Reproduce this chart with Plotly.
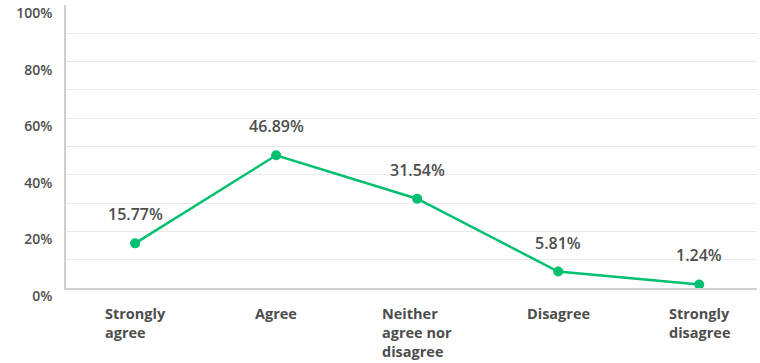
import plotly.graph_objects as go

categories = ["Strongly<br>agree", "Agree", "Neither<br>agree nor<br>disagree",
              "Disagree", "Strongly<br>disagree"]
values = [15.77, 46.89, 31.54, 5.81, 1.24]
y_ticks = [0, 20, 40, 60, 80, 100]
y_tick_labels = ["0%", "20%", "40%", "60%", "80%", "100%"]

GREEN = "#00BF6F"
TEXT = "#4d4d4d"
FONT = "Open Sans"

xs = list(range(len(categories)))

fig = go.Figure()
fig.add_trace(go.Scatter(
    x=xs, y=values, mode="lines+markers",
    line=dict(color=GREEN, width=2.5),
    marker=dict(color=GREEN, size=10),
    hoverinfo="skip", showlegend=False,
))

annotations = []
# value labels above each point
for x, v in zip(xs, values):
    annotations.append(dict(
        x=x, y=v, xref="x", yref="y", text=f"{v:.2f}%", showarrow=False,
        yshift=29, font=dict(family=FONT, size=16, color=TEXT, weight=600),
    ))
# category labels under the axis, lines left-aligned within a centred block
for x, c in zip(xs, categories):
    annotations.append(dict(
        x=x, y=0, xref="x", yref="paper", text=c, showarrow=False,
        yanchor="top", yshift=-14, align="left",
        font=dict(family=FONT, size=14.5, color=TEXT, weight=700),
    ))

fig.update_layout(
    width=760, height=363,
    margin=dict(l=66, r=3, t=5, b=75),
    paper_bgcolor="white", plot_bgcolor="white",
    annotations=annotations,
    xaxis=dict(
        range=[-0.49, 4.41], showticklabels=False, showgrid=False,
        zeroline=False, showline=True, linecolor="#cfcfcf", linewidth=1.5,
        fixedrange=True,
    ),
    yaxis=dict(
        range=[0, 100], tickvals=y_ticks, ticktext=y_tick_labels,
        showgrid=True, gridcolor="#e9e9e9", gridwidth=1,
        minor=dict(dtick=10, showgrid=True, gridcolor="#e9e9e9", gridwidth=1),
        zeroline=False, showline=True, linecolor="#cfcfcf", linewidth=1.5,
        ticks="", ticklabelstandoff=9, ticklabelshift=8,
        tickfont=dict(family=FONT, size=14, color=TEXT, weight=600),
        fixedrange=True,
    ),
)

fig.write_html("out.html")
